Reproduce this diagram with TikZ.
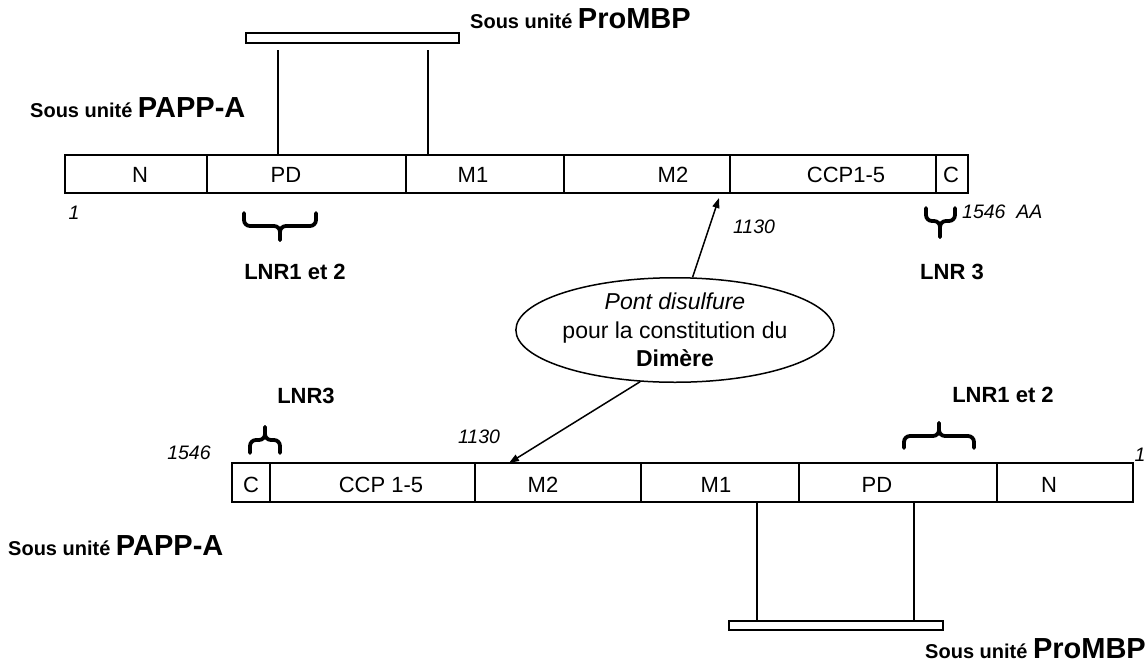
\documentclass[tikz,border=0pt]{standalone}
\usepackage{fontspec}
\setmainfont{Liberation Sans}
\usetikzlibrary{shapes.geometric,arrows.meta}
\begin{document}
\begin{tikzpicture}[x=1pt,y=-1pt,
  seg/.style={draw, line width=1.5pt, inner sep=0pt, anchor=west},
  topseg/.style={seg, minimum height=38pt},
  botseg/.style={seg, minimum height=39pt},
  lab/.style={inner sep=0pt, font=\fontsize{22}{26}\selectfont},
  num/.style={inner sep=0pt, font=\fontsize{19.5}{23}\selectfont\itshape},
  lnr/.style={inner sep=0pt, font=\fontsize{22}{26}\selectfont\bfseries},
  sous/.style={inner sep=0pt, anchor=base west, font=\bfseries},
  pbar/.style={draw, line width=1.5pt, inner sep=0pt, minimum height=10pt},
  link/.style={line width=1.5pt},
  brc/.style={line width=3.8pt, rounded corners=6pt, line cap=round},
  arr/.style={line width=1.5pt, -{Triangle[length=10pt,width=7pt]}}
]
\useasboundingbox (0,0) rectangle (1146,662);

% ---------- top PAPP-A ----------
\node[topseg, minimum width=142pt] (tN)   at (64,174)  {};
\node[topseg, minimum width=199pt] (tPD)  at (206,174) {};
\node[topseg, minimum width=158pt] (tM1)  at (405,174) {};
\node[topseg, minimum width=166pt] (tM2)  at (563,174) {};
\node[topseg, minimum width=206pt] (tCCP) at (729,174) {};
\node[topseg, minimum width=32pt]  (tC)   at (935,174) {};
\node[lab] (ltN)   at (140,175) {N};
\node[lab] (ltPD)  at (286,175) {PD};
\node[lab] (ltM1)  at (473,175) {M1};
\node[lab] (ltM2)  at (673,175) {M2};
\node[lab] (ltCCP) at (846,175) {CCP1-5};
\node[lab] (ltC)   at (951,175) {C};

\node[sous] (tpapp) at (30,117) {\fontsize{20}{24}\selectfont Sous unité \fontsize{29}{32}\selectfont PAPP-A};
\node[sous] (tpro) at (470,28) {\fontsize{20}{24}\selectfont Sous unité \fontsize{29}{32}\selectfont ProMBP};

\node[pbar, minimum width=213pt] (pb1) at (352.5,38) {};
\coordinate (l1) at (278,50);
\coordinate (l2) at (428,50);
\draw[link] (l1) -- (l1 |- tPD.north);
\draw[link] (l2) -- (l2 |- tM1.north);

\node[num] (n1) at (74,213) {1};
\node[num, anchor=west] (n1546) at (962,212) {1546\ \ AA};
\node[num] (n1130) at (754,227) {1130};

\draw[brc] (244,213) -- (244,226) -- (280,226) -- (280,240);
\draw[brc] (316,213) -- (316,226) -- (280,226) -- (280,240);
\draw[brc] (926,208) -- (926,221) -- (940,221) -- (940,237);
\draw[brc] (955,208) -- (955,221) -- (940,221) -- (940,237);
\node[lnr] (lnr12t) at (295,272) {LNR1 et 2};
\node[lnr] (lnr3t) at (952,272) {LNR 3};

% ---------- ellipse ----------
\node[ellipse, draw, line width=1.5pt, minimum width=266pt, minimum height=104pt,
      inner sep=0pt, align=center, font=\fontsize{23}{28.5}\selectfont] (ell) at (675,330)
  {\textit{Pont disulfure}\\pour la constitution du\\\textbf{Dimère}};
\coordinate (a1) at (719,198);
\coordinate (a2) at (509,463);
\draw[arr] (ell) -- (a1);
\draw[arr] (ell.-124) -- (a2);

% ---------- bottom PAPP-A ----------
\node[botseg, minimum width=38pt]  (bC)   at (231,482.5) {};
\node[botseg, minimum width=205pt] (bCCP) at (269,482.5) {};
\node[botseg, minimum width=166pt] (bM2)  at (474,482.5) {};
\node[botseg, minimum width=158pt] (bM1)  at (640,482.5) {};
\node[botseg, minimum width=198pt] (bPD)  at (798,482.5) {};
\node[botseg, minimum width=136pt] (bN)   at (996,482.5) {};
\node[lab] (lbC)   at (251,485) {C};
\node[lab] (lbCCP) at (381,485) {CCP 1-5};
\node[lab] (lbM2)  at (543,485) {M2};
\node[lab] (lbM1)  at (716,485) {M1};
\node[lab] (lbPD)  at (877,485) {PD};
\node[lab] (lbN)   at (1049,485) {N};

\node[num] (m1546) at (189,453) {1546};
\node[num] (m1130) at (479,437) {1130};
\node[num] (m1) at (1140,455) {1};

\draw[brc] (250,453) -- (250,440) -- (265,440) -- (265,427);
\draw[brc] (280,453) -- (280,440) -- (265,440) -- (265,427);
\draw[brc] (904,448) -- (904,436) -- (939,436) -- (939,423);
\draw[brc] (974,448) -- (974,436) -- (939,436) -- (939,423);
\node[lnr] (lnr3b) at (306,396) {LNR3};
\node[lnr] (lnr12b) at (1003,395) {LNR1 et 2};

\node[sous] (bpapp) at (8,555) {\fontsize{20}{24}\selectfont Sous unité \fontsize{29}{32}\selectfont PAPP-A};
\node[sous, anchor=base east] (bpro) at (1146,658) {\fontsize{20}{24}\selectfont Sous unité \fontsize{29}{32}\selectfont ProMBP};

\node[pbar, minimum width=214pt, minimum height=9pt] (pb2) at (836,625.5) {};
\coordinate (l3) at (757,0);
\coordinate (l4) at (914,0);
\draw[link] (l3 |- bM1.south) -- (l3 |- pb2.north);
\draw[link] (l4 |- bPD.south) -- (l4 |- pb2.north);
\end{tikzpicture}
\end{document}
